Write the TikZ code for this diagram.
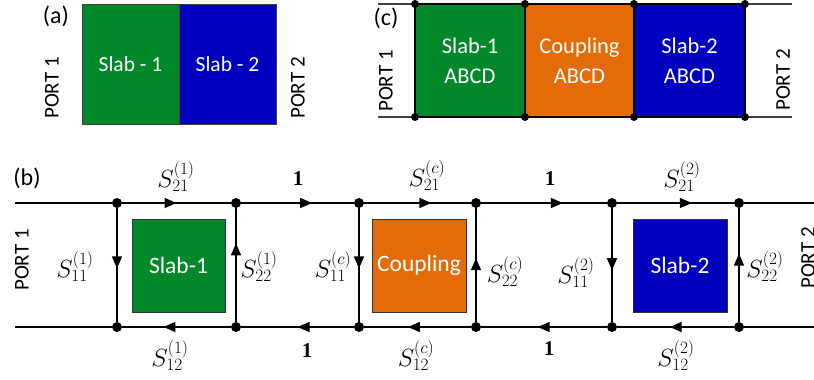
\documentclass[tikz,border=0pt]{standalone}
\usepackage{fontspec}
\setmainfont{Carlito}
\newfontfamily\onefont{Liberation Serif}
\usetikzlibrary{arrows.meta,decorations.markings}
\definecolor{slabgreen}{RGB}{0,136,43}
\definecolor{slabblue}{RGB}{0,0,190}
\definecolor{couporange}{RGB}{227,108,9}
\begin{document}
\begin{tikzpicture}[x=1pt,y=-1pt,
  boxa/.style={draw=black!75, line width=0.8pt, text=white, inner sep=0pt,
    font=\fontsize{21.5}{24}\selectfont, minimum width=97pt, minimum height=120pt},
  boxc/.style={draw=black, line width=1.5pt, text=white, inner sep=0pt, align=center,
    font=\fontsize{22.5}{30}\selectfont, minimum height=113pt},
  boxb/.style={draw=black!80, line width=0.8pt, text=white, inner sep=0pt,
    font=\fontsize{23.5}{26}\selectfont, minimum width=93pt, minimum height=93pt},
  port/.style={rotate=90, font=\fontsize{21}{24}\selectfont, inner sep=0pt},
  tag/.style={font=\fontsize{24}{26}\selectfont, inner sep=0pt},
  slbl/.style={font=\fontsize{25}{28}\selectfont, inner sep=0pt},
  onelbl/.style={font=\onefont\bfseries\fontsize{21}{24}\selectfont, inner sep=0pt},
  dotc/.style={circle, fill=black, inner sep=0pt, minimum size=8pt},
  dotb/.style={circle, fill=black, inner sep=0pt, minimum size=10pt},
  wireb/.style={line width=1.5pt},
  wirec/.style={line width=1.2pt, draw=black!75},
  arr/.style={postaction={decorate}, decoration={markings,
    mark=at position #1 with {\arrow{Triangle[length=12pt,width=10pt]}}}},
  arr/.default=0.5
]
\useasboundingbox (0,0) rectangle (814,380);

% ---------------- panel (a)
\node[tag] (la) at (56,16) {(a)};
\node[boxa, fill=slabgreen] (a1) at (130.5,64) {Slab - 1};
\node[boxa, fill=slabblue] (a2) at (227.5,64) {Slab - 2};
\node[port] (ap1) at (52,88) {PORT 1};
\node[port] (ap2) at (298,88) {PORT 2};

% ---------------- panel (c)
\node[tag] (lc) at (386,18) {(c)};
\node[boxc, fill=slabgreen, minimum width=110pt] (c1) at (470,60.5) {Slab-1\\ABCD};
\node[boxc, fill=couporange, minimum width=109pt] (c2) at (579.5,60.5) {Coupling\\ABCD};
\node[boxc, fill=slabblue, minimum width=111pt] (c3) at (689.5,60.5) {Slab-2\\ABCD};
\node[port] (cp1) at (386,81) {PORT 1};
\node[port] (cp2) at (783,80) {PORT 2};
\coordinate (cTL) at (378,4);
\coordinate (cTR) at (792,4);
\coordinate (cBL) at (378,117);
\coordinate (cBR) at (792,117);
\node[dotc] (ct1) at (415,4) {};
\node[dotc] (ct2) at (525,4) {};
\node[dotc] (ct3) at (634,4) {};
\node[dotc] (ct4) at (745,4) {};
\node[dotc] (cb1) at (415,117) {};
\node[dotc] (cb2) at (525,117) {};
\node[dotc] (cb3) at (634,117) {};
\node[dotc] (cb4) at (745,117) {};
\draw[wirec] (cTL) -- (ct1) (ct4) -- (cTR);
\draw[wirec] (cBL) -- (cb1) (cb4) -- (cBR);

% ---------------- panel (b)
\node[tag] (lb) at (27,178) {(b)};
\node[port] (bp1) at (22,260) {PORT 1};
\node[port] (bp2) at (808,258) {PORT 2};
\node[boxb, fill=slabgreen] (s1) at (178.5,265.5) {Slab-1};
\node[boxb, fill=couporange, minimum width=94pt] (s2) at (419,265.5) {Coupling};
\node[boxb, fill=slabblue, minimum width=94pt] (s3) at (680,265.5) {Slab-2};

\coordinate (tL) at (15,203);
\coordinate (tR) at (814,203);
\coordinate (bL) at (15,327);
\coordinate (bR) at (814,327);
\foreach \i/\x in {1/117,2/236,3/359,4/476,5/612,6/739}{
  \node[dotb] (t\i) at (\x,203) {};
  \node[dotb] (b\i) at (\x,327) {};
}
% top line (forward)
\draw[wireb] (tL) -- (t1);
\draw[wireb, arr=0.5] (t1) -- (t2);
\draw[wireb, arr=0.63] (t2) -- (t3);
\draw[wireb, arr=0.63] (t3) -- (t4);
\draw[wireb, arr=0.65] (t4) -- (t5);
\draw[wireb, arr=0.64] (t5) -- (t6);
\draw[wireb] (t6) -- (tR);
% bottom line (backward)
\draw[wireb] (b1) -- (bL);
\draw[wireb, arr=0.62] (b2) -- (b1);
\draw[wireb, arr=0.5] (b3) -- (b2);
\draw[wireb, arr=0.59] (b4) -- (b3);
\draw[wireb, arr=0.55] (b5) -- (b4);
\draw[wireb, arr=0.55] (b6) -- (b5);
\draw[wireb] (bR) -- (b6);
% verticals
\draw[wireb, arr=0.53] (t1) -- (b1);
\draw[wireb, arr=0.69] (b2) -- (t2);
\draw[wireb, arr=0.53] (t3) -- (b3);
\draw[wireb, arr=0.56] (b4) -- (t4);
\draw[wireb, arr=0.545] (t5) -- (b5);
\draw[wireb, arr=0.6] (b6) -- (t6);

% labels
\node[slbl] (l21a) at (176,177) {$S_{21}^{(1)}$};
\node[slbl] (l12a) at (170,356) {$S_{12}^{(1)}$};
\node[slbl] (l11a) at (75,267) {$S_{11}^{(1)}$};
\node[slbl] (l22a) at (259,267) {$S_{22}^{(1)}$};
\node[slbl] (l21c) at (427,176) {$S_{21}^{(c)}$};
\node[slbl] (l12c) at (416,356) {$S_{12}^{(c)}$};
\node[slbl] (l11c) at (333,267) {$S_{11}^{(c)}$};
\node[slbl] (l22c) at (505,272) {$S_{22}^{(c)}$};
\node[slbl] (l21b) at (682,177) {$S_{21}^{(2)}$};
\node[slbl] (l12b) at (676,356) {$S_{12}^{(2)}$};
\node[slbl] (l11b) at (576,273) {$S_{11}^{(2)}$};
\node[slbl] (l22b) at (765,267) {$S_{22}^{(2)}$};
\node[onelbl] (o1) at (298,179) {1};
\node[onelbl] (o2) at (550,179) {1};
\node[onelbl] (o3) at (307,351) {1};
\node[onelbl] (o4) at (549,349) {1};
\end{tikzpicture}
\end{document}
